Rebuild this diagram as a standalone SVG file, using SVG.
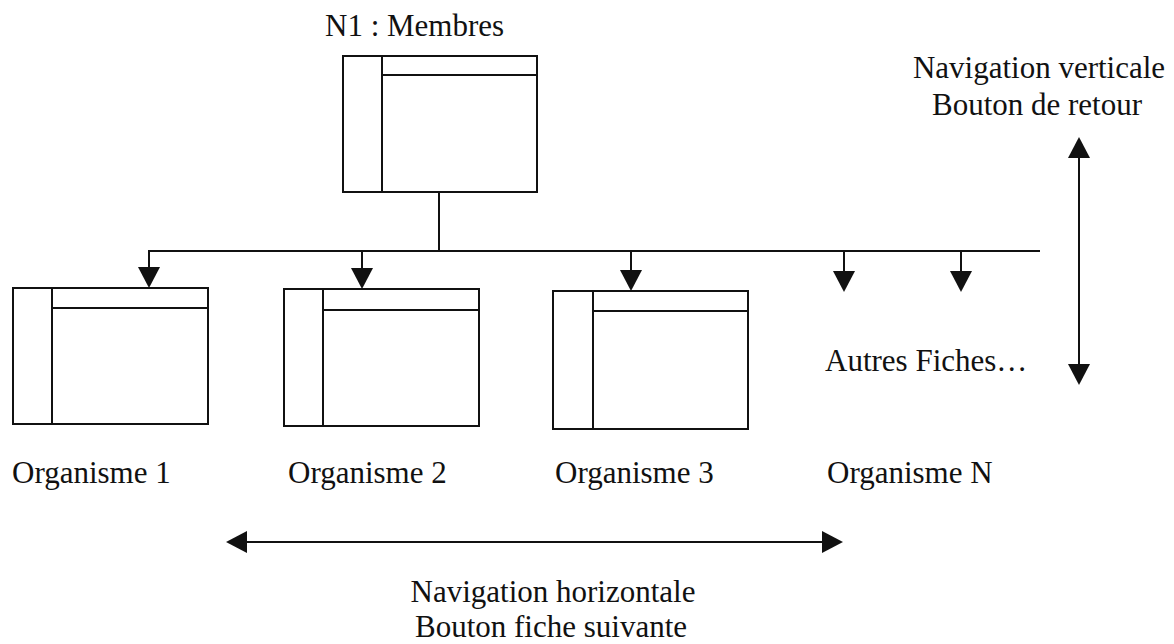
<svg xmlns="http://www.w3.org/2000/svg" width="1174" height="644" viewBox="0 0 1174 644">
<style>
  .bg { fill: #ffffff; }
  .frame { fill: none; stroke: #111; stroke-width: 2; }
  .ln { fill: none; stroke: #111; stroke-width: 2; }
  .txt { font-family: "Liberation Serif", "Times New Roman", serif; font-size: 31px; fill: #111; }
  .mid { text-anchor: middle; }
</style>
<defs>
  <marker id="ah" markerUnits="userSpaceOnUse" markerWidth="21" markerHeight="22" viewBox="0 0 21 22" refX="19" refY="11" orient="auto-start-reverse">
    <path d="M0,0 L21,11 L0,22 z" fill="#111"/>
  </marker>
</defs>
<rect class="bg" x="0" y="0" width="1174" height="644"/>

<g id="node-membres">
  <rect class="frame" x="343" y="56" width="194" height="136"/>
  <line class="ln" x1="382" y1="56" x2="382" y2="192"/>
  <line class="ln" x1="382" y1="75" x2="537" y2="75"/>
  <text class="txt" x="325" y="36">N1 : Membres</text>
</g>

<g id="node-organisme1">
  <rect class="frame" x="13" y="288" width="195" height="136"/>
  <line class="ln" x1="52" y1="288" x2="52" y2="424"/>
  <line class="ln" x1="52" y1="308" x2="208" y2="308"/>
  <text class="txt" x="12" y="483">Organisme 1</text>
</g>

<g id="node-organisme2">
  <rect class="frame" x="284" y="289" width="195" height="137"/>
  <line class="ln" x1="323" y1="289" x2="323" y2="426"/>
  <line class="ln" x1="323" y1="310" x2="479" y2="310"/>
  <text class="txt" x="288" y="483">Organisme 2</text>
</g>

<g id="node-organisme3">
  <rect class="frame" x="553" y="291" width="195" height="138"/>
  <line class="ln" x1="593" y1="291" x2="593" y2="429"/>
  <line class="ln" x1="593" y1="311" x2="748" y2="311"/>
  <text class="txt" x="555" y="483">Organisme 3</text>
</g>

<g id="node-autres">
  <text class="txt" x="825" y="371">Autres Fiches…</text>
  <text class="txt" x="827" y="483">Organisme N</text>
</g>

<g id="labels">
  <text class="txt mid" x="1039" y="78">Navigation verticale</text>
  <text class="txt mid" x="1037" y="115">Bouton de retour</text>
  <text class="txt mid" x="553" y="602">Navigation horizontale</text>
  <text class="txt mid" x="551" y="637">Bouton fiche suivante</text>
</g>

<g id="connectors">
  <line class="ln" x1="439" y1="192" x2="439" y2="251"/>
  <line class="ln" x1="148" y1="251" x2="1040" y2="251"/>
  <line class="ln" x1="149" y1="251" x2="149" y2="286" marker-end="url(#ah)"/>
  <line class="ln" x1="362" y1="251" x2="362" y2="287" marker-end="url(#ah)"/>
  <line class="ln" x1="631" y1="251" x2="631" y2="289" marker-end="url(#ah)"/>
  <line class="ln" x1="844" y1="251" x2="844" y2="290" marker-end="url(#ah)"/>
  <line class="ln" x1="961" y1="251" x2="961" y2="290" marker-end="url(#ah)"/>
  <line class="ln" x1="1079" y1="139" x2="1079" y2="383" marker-start="url(#ah)" marker-end="url(#ah)"/>
  <line class="ln" x1="228" y1="542" x2="841" y2="542" marker-start="url(#ah)" marker-end="url(#ah)"/>
</g>
</svg>
